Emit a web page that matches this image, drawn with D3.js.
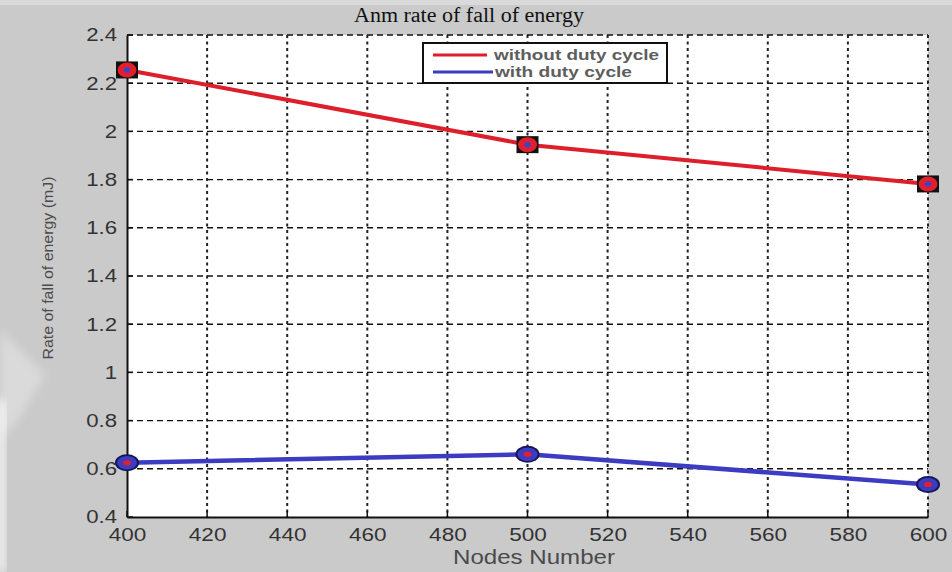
<!DOCTYPE html>
<html>
<head>
<meta charset="utf-8">
<script src="https://cdn.jsdelivr.net/npm/d3@7"></script>
<style>
  html, body { margin: 0; padding: 0; background: #cacaca; }
  svg { display: block; }
</style>
</head>
<body>
<script>
// Node counts on the x axis
const nodes = [400, 500, 600];
// Rate of fall of energy (mJ) for each protocol variant
const withoutDuty = [2.255, 1.945, 1.782];
const withDuty = [0.625, 0.66, 0.535];
// Tick values
const xTicks = [400, 420, 440, 460, 480, 500, 520, 540, 560, 580, 600];
const yTicks = [0.4, 0.6, 0.8, 1, 1.2, 1.4, 1.6, 1.8, 2, 2.2, 2.4];
const seriesNames = ["without duty cycle", "with duty cycle"];

const W = 952, H = 572;
const plotL = 127, plotR = 928, plotT = 35, plotB = 517;

const svg = d3.select("body").append("svg")
  .attr("width", W).attr("height", H);

// figure background with a lighter rim
svg.append("rect").attr("width", W).attr("height", H).attr("fill", "#cacaca");
svg.append("rect").attr("x", 0).attr("y", 0).attr("width", W).attr("height", 5)
  .attr("fill", "#dadada");
const defs = svg.append("defs");
defs.append("filter").attr("id", "soft").append("feGaussianBlur").attr("stdDeviation", 5);
svg.append("rect").attr("x", -4).attr("y", 400).attr("width", 10).attr("height", H - 400)
  .attr("fill", "#f0f0f0").attr("filter", "url(#soft)");
svg.append("path")
  .attr("d", "M0,330 L45,375 L18,420 L0,440 Z")
  .attr("fill", "#ffffff").attr("opacity", 0.3).attr("filter", "url(#soft)");

const x = d3.scaleLinear().domain([400, 600]).range([plotL, plotR]);
const y = d3.scaleLinear().domain([0.4, 2.4]).range([plotB, plotT]);

// plot area
svg.append("rect")
  .attr("x", plotL).attr("y", plotT)
  .attr("width", plotR - plotL).attr("height", plotB - plotT)
  .attr("fill", "#ffffff");

// grid lines
const grid = svg.append("g");
grid.selectAll("line.h").data(yTicks.filter(v => v > 0.4)).join("line")
  .attr("class", "h")
  .attr("x1", plotL).attr("x2", plotR)
  .attr("y1", d => y(d)).attr("y2", d => y(d))
  .attr("stroke", "#111").attr("stroke-width", 1.4)
  .attr("stroke-dasharray", "6,4");
grid.selectAll("line.v").data(xTicks.filter(v => v > 400)).join("line")
  .attr("class", "v")
  .attr("x1", d => x(d)).attr("x2", d => x(d))
  .attr("y1", plotT).attr("y2", plotB)
  .attr("stroke", "#222").attr("stroke-width", 2)
  .attr("stroke-dasharray", "3,3.5");

// widen glyphs horizontally by a given factor
function stretch(sel, factor) {
  sel.each(function () {
    const w = this.getComputedTextLength();
    d3.select(this).attr("textLength", w * factor).attr("lengthAdjust", "spacingAndGlyphs");
  });
}

// axes
const fontFam = "'Liberation Sans', Arial, sans-serif";
const xAxis = svg.append("g")
  .attr("transform", `translate(0,${plotB})`)
  .call(d3.axisBottom(x).tickValues(xTicks).tickSize(0).tickPadding(11).tickFormat(d3.format("d")));
xAxis.select(".domain").attr("stroke", "#111").attr("stroke-width", 2);
xAxis.selectAll("text")
  .attr("font-family", fontFam).attr("font-size", 18.5).attr("fill", "#333")
  .call(stretch, 1.22);
svg.append("g").selectAll("line").data(xTicks).join("line")
  .attr("x1", d => x(d)).attr("x2", d => x(d))
  .attr("y1", plotB).attr("y2", plotB - 6)
  .attr("stroke", "#111").attr("stroke-width", 1.5);

const yAxis = svg.append("g")
  .attr("transform", `translate(${plotL},0)`)
  .call(d3.axisLeft(y).tickValues(yTicks).tickSize(0).tickPadding(10).tickFormat(d => String(d)));
yAxis.select(".domain").attr("stroke", "#111").attr("stroke-width", 2);
yAxis.selectAll("text")
  .attr("font-family", fontFam).attr("font-size", 18.5).attr("fill", "#333")
  .call(stretch, 1.2);
svg.append("g").selectAll("line").data(yTicks).join("line")
  .attr("x1", plotL).attr("x2", plotL + 6)
  .attr("y1", d => y(d)).attr("y2", d => y(d))
  .attr("stroke", "#111").attr("stroke-width", 1.5);

// series lines
const line = d3.line().x((d, i) => x(nodes[i])).y(d => y(d));
svg.append("path").datum(withoutDuty)
  .attr("d", line).attr("fill", "none")
  .attr("stroke", "#dc1f2a").attr("stroke-width", 4);
svg.append("path").datum(withDuty)
  .attr("d", line).attr("fill", "none")
  .attr("stroke", "#3b3cc2").attr("stroke-width", 4.5);

// square markers for the red series
const mRed = svg.append("g").selectAll("g").data(withoutDuty).join("g")
  .attr("transform", (d, i) => `translate(${x(nodes[i])},${y(d)})`);
mRed.append("rect").attr("x", -11).attr("y", -8.5).attr("width", 22).attr("height", 17)
  .attr("fill", "#111");
mRed.append("ellipse").attr("rx", 9.5).attr("ry", 7.5).attr("fill", "#e0202c");
mRed.append("ellipse").attr("rx", 3.2).attr("ry", 2.6).attr("fill", "#4040c8");

// round markers for the blue series
const mBlue = svg.append("g").selectAll("g").data(withDuty).join("g")
  .attr("transform", (d, i) => `translate(${x(nodes[i])},${y(d)})`);
mBlue.append("ellipse").attr("rx", 12).attr("ry", 8.5).attr("fill", "#161650");
mBlue.append("ellipse").attr("rx", 10).attr("ry", 6.8).attr("fill", "#3b3cc2");
mBlue.append("ellipse").attr("rx", 4).attr("ry", 2.6).attr("fill", "#e0202c");

// legend
const lg = svg.append("g");
lg.append("rect").attr("x", 423).attr("y", 43).attr("width", 244).attr("height", 40)
  .attr("fill", "#ffffff").attr("stroke", "#111").attr("stroke-width", 2);
const legendColors = ["#dc1f2a", "#3b3cc2"];
const legendEnd = [487, 493];
const legendLen = [165, 137];
seriesNames.forEach((name, i) => {
  const ly = 55 + i * 17;
  lg.append("line").attr("x1", 433).attr("x2", legendEnd[i])
    .attr("y1", ly).attr("y2", ly)
    .attr("stroke", legendColors[i]).attr("stroke-width", 3);
  lg.append("text").attr("x", 494 + i).attr("y", ly + 5)
    .attr("font-family", fontFam).attr("font-size", 14.5).attr("font-weight", "bold")
    .attr("fill", "#5e5e5e")
    .attr("textLength", legendLen[i]).attr("lengthAdjust", "spacingAndGlyphs")
    .text(name);
});

// title
svg.append("text").attr("x", 469).attr("y", 22)
  .attr("text-anchor", "middle")
  .attr("font-family", "'Liberation Serif', 'Times New Roman', serif")
  .attr("font-size", 20).attr("fill", "#111")
  .attr("textLength", 230).attr("lengthAdjust", "spacingAndGlyphs")
  .text("Anm rate of fall of energy");

// axis titles
svg.append("text").attr("x", 534).attr("y", 564)
  .attr("text-anchor", "middle")
  .attr("font-family", fontFam).attr("font-size", 20).attr("fill", "#4a4a4a")
  .attr("textLength", 162).attr("lengthAdjust", "spacingAndGlyphs")
  .text("Nodes Number");
svg.append("text")
  .attr("transform", "translate(53,268) rotate(-90)")
  .attr("text-anchor", "middle")
  .attr("font-family", "'Liberation Sans Narrow', 'Arial Narrow', Arial, sans-serif")
  .attr("font-size", 14.5).attr("fill", "#4a4a4a")
  .attr("textLength", 183).attr("lengthAdjust", "spacingAndGlyphs")
  .text("Rate of fall of energy (mJ)");
</script>
</body>
</html>
